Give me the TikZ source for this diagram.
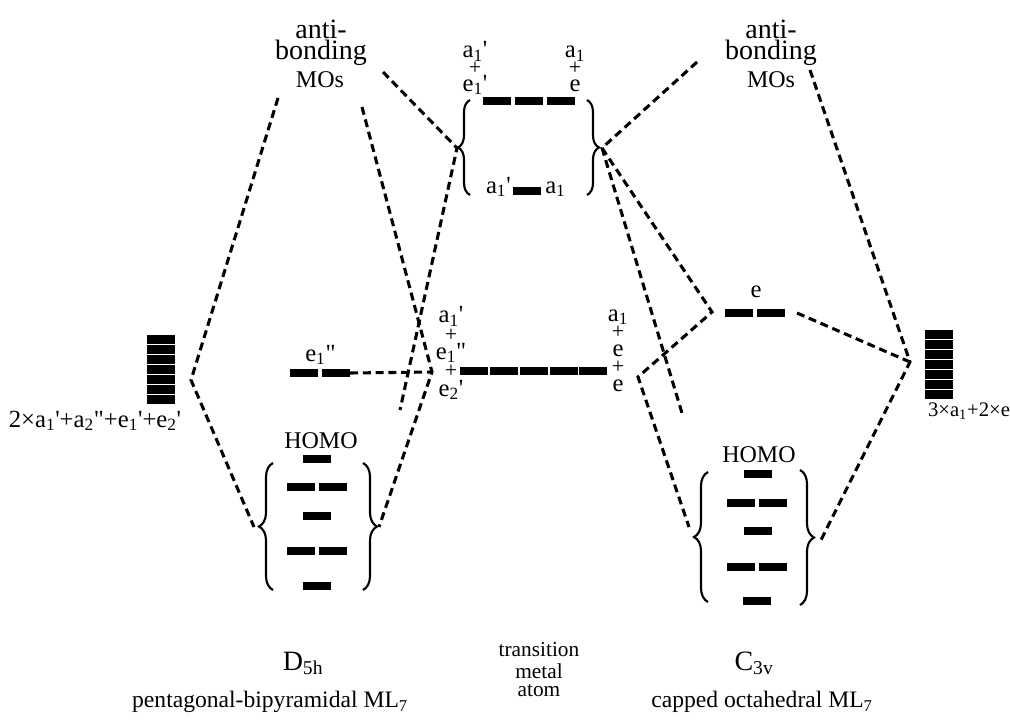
\documentclass[tikz,border=0pt]{standalone}
\usepackage{fontspec}
\setmainfont{Liberation Serif}[Ligatures=TeXOff]
\usetikzlibrary{decorations.pathreplacing}
\newcommand\sbs[1]{\textsubscript{#1}}
\newcommand\pq{\char"27}
\newcommand\dq{\char"22}
\newcommand\fs[1]{\fontsize{#1}{#1}\selectfont}
\newcommand\pl{\raisebox{0pt}{\fontsize{16.5}{16.5}\selectfont+}}
\begin{document}
\lineskiplimit=-100pt
\lineskip=0pt
\begin{tikzpicture}[x=0.75pt,y=-0.75pt,
  lv/.style={fill=black},
  dsh/.style={line width=2.3pt,dash pattern=on 6pt off 3.6pt},
  brc/.style={decorate,decoration={brace,amplitude=9pt},line width=1.6pt},
  brcb/.style={decorate,decoration={brace,amplitude=10.5pt},line width=1.6pt},
  lbl/.style={inner sep=0pt,font=\fs{18.5}},
  lw/.style={lbl,anchor=base west},
  colA/.style={inner sep=0pt,align=center,anchor=base,font={\fontsize{18.5}{12.4}\selectfont}},
  colB/.style={inner sep=0pt,align=center,anchor=base,font={\fontsize{18.5}{13.7}\selectfont}},
  colC/.style={inner sep=0pt,align=center,anchor=base,font={\fontsize{18.5}{13.1}\selectfont}},
  big/.style={inner sep=0pt,font=\fs{21}},
  sml/.style={inner sep=0pt,font=\fs{18}},
  btm/.style={inner sep=0pt,font=\fs{16}},
  btl/.style={inner sep=0pt,font=\fs{17.7}}]
\useasboundingbox (0,0) rectangle (1010,722);
\newcommand\lvl[2]{\fill[lv] (#1,#2) rectangle ++(28,8);}
% ---------- stacks ----------
\foreach \i in {0,...,6} {\fill[lv] (147,335+10*\i) rectangle ++(28,9.1);}
\foreach \i in {0,...,6} {\fill[lv] (925,330+10*\i) rectangle ++(28,9.1);}
\node[inner sep=0pt,font=\fs{18.5}] (lstk) at (95,421) {2×a\sbs{1}\pq+a\sbs{2}\dq+e\sbs{1}\pq+e\sbs{2}\pq};
\node[inner sep=0pt,font=\fs{15.5}] (rstk) at (969,411) {3×a\sbs{1}+2×e};
% ---------- antibonding labels ----------
\node[big] (la1) at (321,29) {anti-};
\node[big] (la2) at (321,53) {bonding};
\node[sml] (la3) at (320,80) {MOs};
\node[big] (ra1) at (771,29) {anti-};
\node[big] (ra2) at (771,53) {bonding};
\node[sml] (ra3) at (771,80) {MOs};
% ---------- metal top ----------
\lvl{483}{97}\lvl{515}{97}\lvl{547}{97}
\lvl{513}{187}
\node[colA] (tl) at (475,91) {a\sbs{1}\pq\\\pl\\e\sbs{1}\pq};
\node[colA] (tr) at (575,91) {a\sbs{1}\\\pl\\e};
\node[lbl,anchor=base east] (t7) at (511,193) {a\sbs{1}\pq};
\node[lbl,anchor=base west] (t8) at (545,193) {a\sbs{1}};
\draw[brc] (470,195) -- (470,100);
\draw[brc] (587,100) -- (587,195);
% ---------- metal middle ----------
\lvl{460}{367}\lvl{490}{367}\lvl{520}{367}\lvl{550}{367}\lvl{579}{367}
\node[colB] (ml) at (451,396) {a\sbs{1}\pq\\\pl\\e\sbs{1}\dq\\\pl\\e\sbs{2}\pq};
\node[colC] (mr) at (618,391) {a\sbs{1}\\\pl\\e\\\pl\\e};
% ---------- D5h e1'' ----------
\lvl{290}{369}\lvl{322}{369}
\node[lw] (e1) at (305,361) {e\sbs{1}\dq};
% ---------- C3v e ----------
\lvl{725}{309}\lvl{757}{309}
\node[lbl,anchor=base] (ce) at (756,297) {e};
% ---------- D5h HOMO ----------
\node[sml,anchor=base] (h1) at (321,448) {HOMO};
\lvl{303}{455}
\lvl{287}{483}\lvl{319}{483}
\lvl{303}{512}
\lvl{287}{547}\lvl{319}{547}
\lvl{303}{582}
\draw[brcb] (273,590) -- (273,463);
\draw[brcb] (363,463) -- (363,590);
% ---------- C3v HOMO ----------
\node[sml,anchor=base] (h2) at (759,462) {HOMO};
\lvl{744}{470}
\lvl{727}{499}\lvl{759}{499}
\lvl{744}{527}
\lvl{727}{563}\lvl{759}{563}
\lvl{743}{597}
\draw[brcb] (708,602) -- (708,472);
\draw[brcb] (800,470) -- (800,605);
% ---------- bottom labels ----------
\node[big] (d5h) at (303,663) {D\sbs{5h}};
\node[btl] (pbp) at (270,702) {pentagonal-bipyramidal ML\sbs{7}};
\node[btm] (tr1) at (539,650) {transition};
\node[btm] (tr2) at (539,671) {metal};
\node[btm] (tr3) at (539,691) {atom};
\node[big] (c3v) at (754,663) {C\sbs{3v}};
\node[btl] (cap) at (762,702) {capped octahedral ML\sbs{7}};
% ---------- coordinates ----------
\coordinate (lchev) at (191,380);
\coordinate (lantiA) at (278,98);
\coordinate (lantiB) at (383,72);
\coordinate (lantiC) at (362,107);
\coordinate (lhomoL) at (254,527);
\coordinate (lhomoR) at (379,527);
\coordinate (tbl) at (457,148);
\coordinate (tbr) at (602,148);
\coordinate (lend) at (400,410);
\coordinate (mchevL) at (432,372);
\coordinate (e1end) at (350,373);
\coordinate (rantiA) at (697,62);
\coordinate (rantiB) at (810,70);
\coordinate (rend) at (682,413);
\coordinate (echev) at (712,312);
\coordinate (eend) at (797,313);
\coordinate (mchevR) at (638,377);
\coordinate (rhomoL) at (689,527);
\coordinate (rhomoR) at (821,540);
\coordinate (rchev) at (910,362);
% ---------- dashed connectors ----------
\draw[dsh] (lantiA) -- (lchev) -- (lhomoL);
\draw[dsh] (lantiB) -- (tbl) -- (lend);
\draw[dsh] (lantiC) -- (mchevL) -- (lhomoR);
\draw[dsh] (e1end) -- (mchevL);
\draw[dsh] (rantiA) -- (tbr) -- (rend);
\draw[dsh] (tbr) -- (echev) -- (mchevR) -- (rhomoL);
\draw[dsh] (eend) -- (rchev);
\draw[dsh] (rantiB) -- (rchev) -- (rhomoR);
\end{tikzpicture}
\end{document}
